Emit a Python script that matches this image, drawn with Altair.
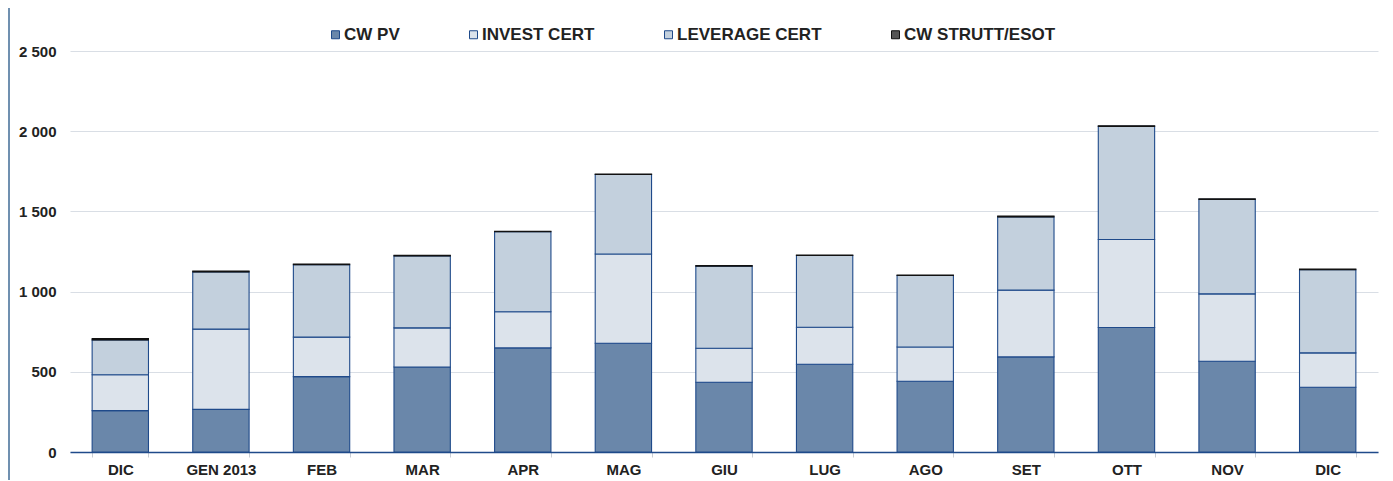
import altair as alt
import pandas as pd

months = ["DIC", "GEN 2013", "FEB", "MAR", "APR", "MAG", "GIU", "LUG", "AGO", "SET", "OTT", "NOV", "DIC "]
series = ["CW PV", "INVEST CERT", "LEVERAGE CERT", "CW STRUTT/ESOT"]
cw_pv = [258, 266, 470, 530, 649, 678, 435, 547, 441, 593, 776, 566, 404]
invest = [224, 500, 246, 244, 225, 556, 212, 231, 214, 416, 549, 420, 214]
leverage = [217, 357, 451, 449, 499, 496, 512, 447, 445, 457, 705, 589, 518]
strutt = [8, 5, 5, 3, 3, 3, 3, 3, 3, 5, 4, 3, 5]
y_ticks = [0, 500, 1000, 1500, 2000, 2500]

fills = ["#6A87AA", "#DCE3EB", "#C3D0DD", "#555555"]
strokes = ["#1F4A8A", "#1F4A8A", "#1F4A8A", "#111111"]

rows = []
for i, m in enumerate(months):
    for k, (s, vals) in enumerate(zip(series, [cw_pv, invest, leverage, strutt])):
        rows.append({"month": m, "series": s, "value": vals[i], "ord": k})
df = pd.DataFrame(rows)

FONT = "Liberation Sans"

bars = alt.Chart(df).mark_bar(strokeWidth=1.1).encode(
    x=alt.X("month:N", sort=months, title=None,
            scale=alt.Scale(paddingInner=0.44, paddingOuter=0.22),
            axis=alt.Axis(labelAngle=0, labelFont=FONT, labelFontWeight="bold",
                          labelFontSize=15, labelColor="#222222", labelPadding=5,
                          domainColor="#1F4A8A", domainWidth=1.5,
                          tickBand="extent", tickColor="#C8CDD4", tickSize=5,
                          grid=False,
                          labelExpr="trim(datum.label)")),
    y=alt.Y("value:Q", stack="zero", title=None,
            scale=alt.Scale(domain=[0, 2500], nice=False),
            axis=alt.Axis(values=y_ticks, labelFont=FONT, labelFontWeight="bold",
                          labelFontSize=15, labelColor="#222222", labelPadding=14,
                          domain=False, ticks=False, gridColor="#D9DEE5",
                          labelExpr="replace(format(datum.value, ','), ',', ' ')")),
    color=alt.Color("series:N", scale=alt.Scale(domain=series, range=fills),
                    legend=alt.Legend(title=None, orient="none", direction="horizontal",
                                      legendX=257, legendY=-25,
                                      symbolType="square", symbolSize=64,
                                      symbolStrokeColor="#1F4A8A", symbolStrokeWidth=1,
                                      labelFont=FONT, labelFontWeight="bold",
                                      labelFontSize=17, labelColor="#222222",
                                      columnPadding=65, labelOffset=0)),
    stroke=alt.Stroke("series:N", scale=alt.Scale(domain=series, range=strokes), legend=None),
    order=alt.Order("ord:Q", sort="ascending"),
)

frame = alt.Chart(alt.Data(values=[{}])).mark_rule(color="#7090B0", strokeWidth=2).encode(
    x=alt.value(-61), y=alt.value(-43), y2=alt.value(440)
)

chart = alt.layer(frame, bars).properties(
    width=1308, height=401,
    autosize=alt.AutoSizeParams(type="none"),
    padding={"left": 62, "top": 43, "right": 7, "bottom": 28},
).configure_view(stroke=None)

chart.save("out.html", embed_options={"renderer": "svg", "actions": False})
